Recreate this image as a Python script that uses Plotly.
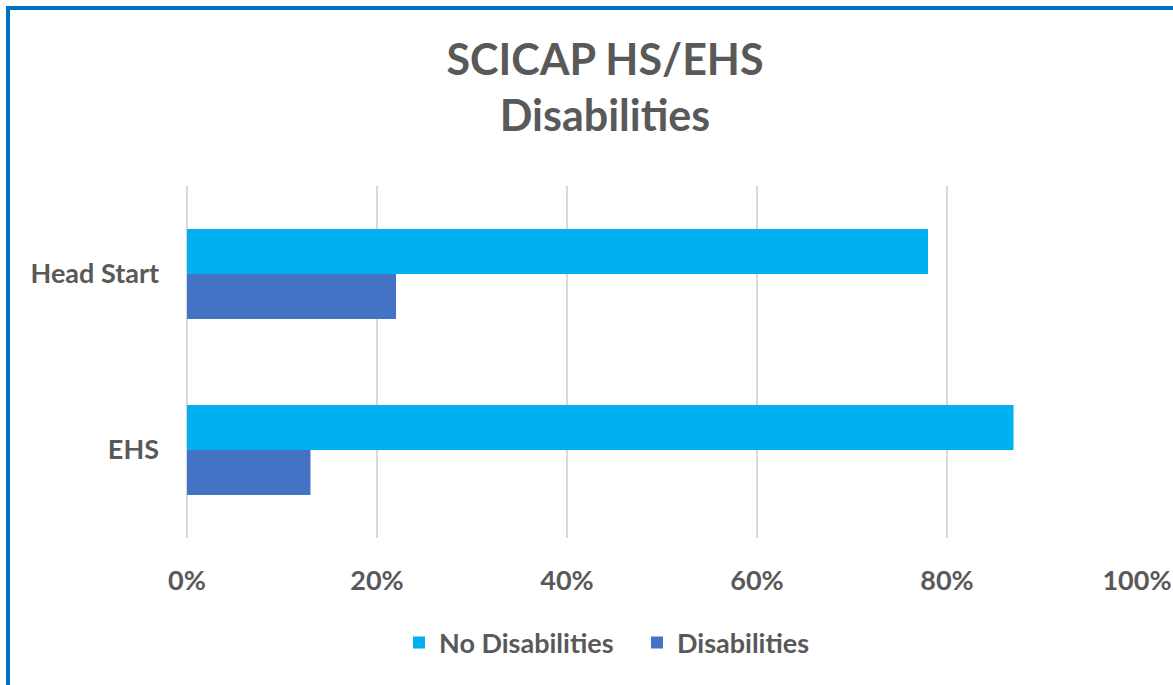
import plotly.graph_objects as go

categories = ["EHS", "Head Start"]
no_disabilities = [0.87, 0.78]
disabilities = [0.13, 0.22]
tick_vals = [0, 0.2, 0.4, 0.6, 0.8, 1.0]
tick_text = ["0%", "20%", "40%", "60%", "80%", "100%"]

FONT = "Lato, Carlito, Calibri, sans-serif"
GRAY = "#595959"
FS = 27

fig = go.Figure()
fig.add_trace(go.Bar(y=categories, x=disabilities, name="Disabilities", orientation="h",
                     marker=dict(color="#4472C4", line=dict(width=0)), legendrank=2))
fig.add_trace(go.Bar(y=categories, x=no_disabilities, name="No Disabilities", orientation="h",
                     marker=dict(color="#00B0F0", line=dict(width=0)), legendrank=1))

W, H = 1173, 685
L, R, T, B = 187, 36, 186, 147
pw, ph = W - L - R, H - T - B

def px_to_paper_x(px):
    return (px - L) / pw

def px_to_paper_y(py):
    return (H - B - py) / ph

fig.update_layout(
    width=W, height=H,
    margin=dict(l=L, r=R, t=T, b=B, autoexpand=False),
    paper_bgcolor="white", plot_bgcolor="white",
    barmode="group", bargap=0.489, bargroupgap=0,
    title=dict(text="<b>SCICAP HS/EHS<br>Disabilities</b>", x=605 / W, xanchor="center",
               y=1 - 75 / H, yanchor="middle", yref="container",
               font=dict(family=FONT, size=43, color=GRAY)),
    font=dict(family=FONT, color=GRAY),
    legend=dict(orientation="h", x=px_to_paper_x(399), xanchor="left",
                y=px_to_paper_y(643), yanchor="middle",
                font=dict(family=FONT, size=FS, color=GRAY, weight="bold"),
                itemwidth=30, entrywidth=193, entrywidthmode="pixels", traceorder="normal"),
    xaxis=dict(range=[0, 1], tickvals=tick_vals, ticktext=tick_text,
               showgrid=True, gridcolor="#D9D9D9", gridwidth=1.5,
               zeroline=True, zerolinecolor="#D9D9D9", zerolinewidth=1.5,
               showline=False, ticks="",
               ticklabelstandoff=24,
               tickfont=dict(family=FONT, size=FS, color=GRAY, weight="bold"), fixedrange=True),
    yaxis=dict(range=[-0.5, 1.5], showgrid=False, zeroline=False, showline=False, ticks="",
               ticklabelstandoff=27,
               tickfont=dict(family=FONT, size=FS, color=GRAY, weight="bold")),
    showlegend=True,
)

# outer blue border (right and bottom edges fall outside the view)
fig.add_shape(type="rect", xref="paper", yref="paper",
              x0=px_to_paper_x(8), x1=px_to_paper_x(1190),
              y0=px_to_paper_y(700), y1=px_to_paper_y(8),
              line=dict(color="#0070C0", width=4), fillcolor="rgba(0,0,0,0)", layer="above")

fig.write_html("out.html", config={"displayModeBar": False},
               post_script="document.body.style.margin='0';document.body.style.overflow='hidden';")
